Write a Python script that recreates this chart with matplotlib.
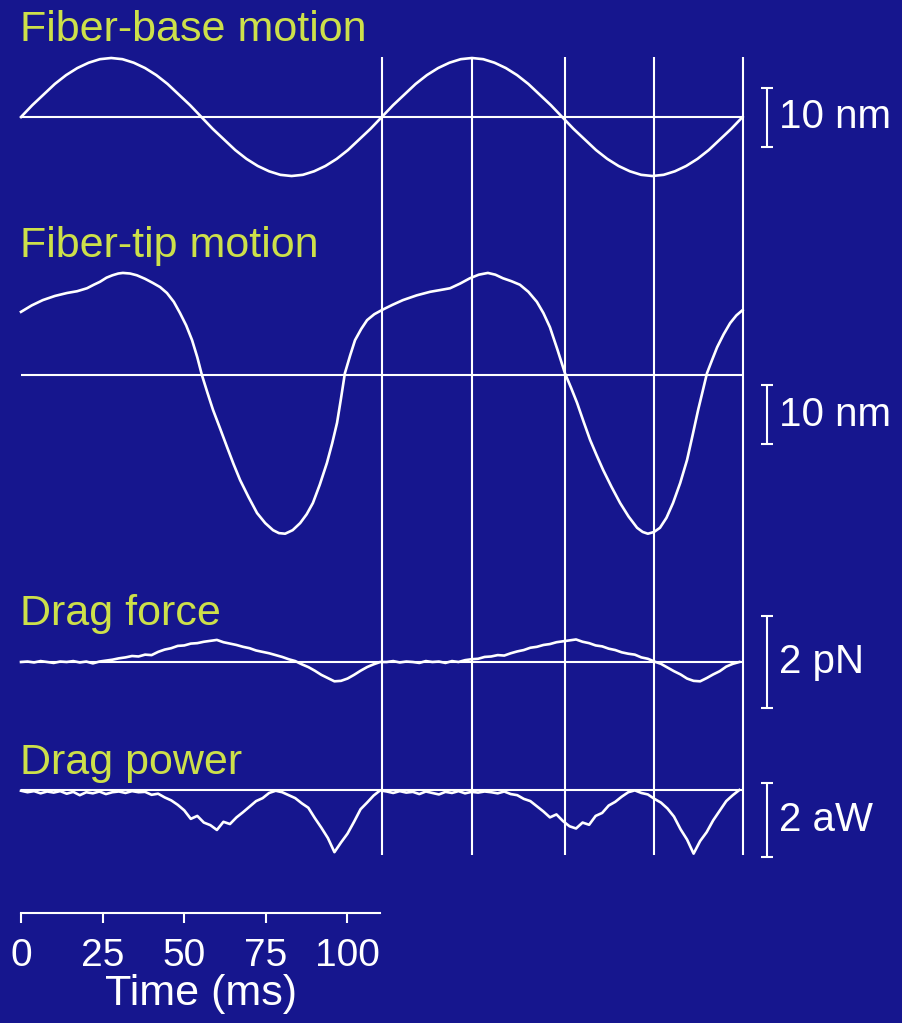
import matplotlib
matplotlib.use("Agg")
import matplotlib.pyplot as plt
import numpy as np

plt.rcParams["font.family"] = ["Liberation Sans", "DejaVu Sans"]

# ---- recorded traces (time in ms) ----
base_t = np.linspace(0, 221, 65)
base_nm = [
    0, 2.0, 3.8, 5.6, 7.1, 8.3, 9.2, 9.8, 10.0, 9.8, 9.2, 8.3, 7.1, 5.6, 3.8, 2.0,
    0, -2.0, -3.8, -5.6, -7.1, -8.3, -9.2, -9.8, -10.0, -9.8, -9.2, -8.3, -7.1, -5.6, -3.8, -2.0,
    0, 2.0, 3.8, 5.6, 7.1, 8.3, 9.2, 9.8, 10.0, 9.8, 9.2, 8.3, 7.1, 5.6, 3.8, 2.0,
    0, -2.0, -3.8, -5.6, -7.1, -8.3, -9.2, -9.8, -10.0, -9.8, -9.2, -8.3, -7.1, -5.6, -3.8, -2.0,
    0,
]

tip_t = [
    0, 3.3, 6.7, 10.4, 14.1, 17.2, 20.2, 22.3, 24.2, 26.2, 28.0, 29.8, 31.2, 33.4,
    35.5, 38.0, 40.4, 42.6, 44.7, 46.8, 48.7, 50.6, 52.4, 54.0, 55.4, 57.1, 58.8,
    61.0, 63.1, 65.1, 67.1, 69.7, 72.3, 74.8, 77.2, 79.0, 80.9, 83.2, 85.5, 87.5,
    89.4, 91.5, 93.7, 95.3, 96.8, 98.0, 99.2, 100.8, 102.3, 104.2, 106.0, 108.2, 110.5,
    113.8, 117.0, 121.2, 125.3, 128.4, 131.4, 134.5, 137.5, 140.2, 143.0, 145.3,
    147.6, 150.2, 152.8, 155.4, 158.0, 160.0, 162.0, 164.3, 166.6, 168.5, 170.3,
    172.3, 174.3, 176.3, 178.3, 180.9, 183.5, 186.1, 188.7, 190.4, 192.0, 193.9,
    195.7, 197.7, 199.7, 201.9, 204.0, 205.7, 207.4, 208.8, 210.1, 211.7, 213.2,
    215.2, 217.2, 219.1, 221.0,
]
tip_nm = [
    10.7, 11.8, 12.7, 13.4, 13.9, 14.2, 14.7, 15.3, 15.8, 16.5, 16.9, 17.2, 17.3, 17.2,
    16.9, 16.3, 15.6, 14.9, 13.9, 12.4, 10.5, 8.4, 5.9, 3.0, 0, -3.0, -5.9,
    -9.1, -12.2, -15.1, -17.8, -20.7, -23.4, -25.1, -26.3, -26.8, -26.9, -26.3, -25.1, -23.6,
    -21.7, -18.6, -14.9, -11.6, -8.1, -4.0, 0.3, 3.3, 5.9, 7.8, 9.3, 10.3, 11.0,
    11.9, 12.7, 13.5, 14.1, 14.4, 14.7, 15.5, 16.4, 17.0, 17.3, 17.0,
    16.4, 15.9, 15.3, 14.1, 12.4, 10.5, 8.1, 4.3, 0.3, -2.2, -4.7,
    -7.9, -11.0, -13.6, -16.1, -19.0, -21.7, -24.0, -25.9, -26.6, -26.9, -26.6,
    -25.9, -24.2, -21.7, -18.3, -14.4, -10.2, -5.9, -2.7, 0.3, 2.6, 4.7,
    6.9, 8.8, 10.1, 11.0,
]

drag_dt_ms = 2.0
drag_force_pN = [
    0.00, 0.01, -0.01, 0.02, 0.00, -0.02, 0.01, 0.00, 0.02, -0.01, 0.01, -0.03, 0.01,
    0.03, 0.05, 0.08, 0.10, 0.13, 0.12, 0.16, 0.15, 0.22, 0.27, 0.30, 0.35, 0.36, 0.40,
    0.41, 0.44, 0.46, 0.48, 0.43, 0.40, 0.37, 0.33, 0.30, 0.25, 0.22, 0.19, 0.15, 0.11,
    0.06, 0.02, -0.05, -0.11, -0.19, -0.28, -0.35, -0.42, -0.41, -0.36, -0.28, -0.19,
    -0.11, -0.05, 0.00,
    0.00, 0.02, -0.01, 0.01, 0.00, -0.02, 0.02, 0.00, 0.01, -0.02, 0.02, 0.00, 0.04,
    0.06, 0.07, 0.11, 0.12, 0.15, 0.14, 0.19, 0.23, 0.26, 0.31, 0.33, 0.37, 0.39, 0.43,
    0.45, 0.47, 0.49, 0.44, 0.41, 0.36, 0.34, 0.29, 0.26, 0.21, 0.18, 0.16, 0.10, 0.07,
    0.01, -0.04, -0.12, -0.20, -0.27, -0.36, -0.41, -0.42, -0.35, -0.27, -0.20, -0.10,
    -0.04, 0.00,
]
drag_power_aW = [
    -0.02, -0.06, -0.03, -0.09, -0.04, -0.07, -0.03, -0.10, -0.05, -0.14,
    -0.06, -0.09, -0.04, -0.11, -0.06, -0.04, -0.08, -0.03, -0.06, -0.05,
    -0.13, -0.10, -0.20, -0.28, -0.40, -0.55, -0.78, -0.70, -0.88, -0.95,
    -1.08, -0.86, -0.92, -0.74, -0.60, -0.45, -0.30, -0.22, -0.08, -0.02,
    -0.06, -0.14, -0.22, -0.36, -0.48, -0.76, -1.02, -1.30, -1.68, -1.42,
    -1.18, -0.86, -0.52, -0.34, -0.15, -0.01,
    -0.04, -0.08, -0.03, -0.07, -0.05, -0.11, -0.04, -0.08, -0.12, -0.05,
    -0.08, -0.03, -0.09, -0.05, -0.07, -0.04, -0.06, -0.09, -0.04, -0.11,
    -0.14, -0.24, -0.30, -0.44, -0.58, -0.74, -0.66, -0.84, -0.98, -1.04,
    -0.88, -0.94, -0.70, -0.62, -0.42, -0.32, -0.18, -0.06, -0.01, -0.08,
    -0.12, -0.24, -0.34, -0.50, -0.72, -1.06, -1.34, -1.72, -1.38, -1.14,
    -0.82, -0.56, -0.30, -0.14, 0.00,
]

# phase markers (ms) and time scale
marker_ms = [110.5, 138, 166.5, 194, 221]
time_ticks = [0, 25, 50, 75, 100]
time_bar_ms = 110

panel_names = ["Fiber-base motion", "Fiber-tip motion", "Drag force", "Drag power"]
scale_labels = ["10 nm", "10 nm", "2 pN", "2 aW"]
scale_ranges = [(-5, 5), (-11.7, -1.7), (-1, 1), (-1.8, 0.2)]

# ---- layout (pixels) ----
W, H = 903, 1023
T0_PX, PX_PER_MS = 21, 3.265
XLIM = (-T0_PX / PX_PER_MS, (W - T0_PX) / PX_PER_MS)
baseline_px = [117, 375, 662, 790]
px_per_unit = [5.9, 5.9, 46, 37]
label_px = [41, 257, 625, 774]

BG = "#16168e"
LABEL_COLOR = "#cde04a"
FG = "white"

fig = plt.figure(figsize=(W / 100, H / 100), dpi=100)
fig.patch.set_facecolor(BG)


def panel_axes(base_px, ppu):
    ax = fig.add_axes([0, 0, 1, 1])
    ax.set_xlim(XLIM)
    ax.set_ylim(-(H - base_px) / ppu, base_px / ppu)
    ax.axis("off")
    return ax


trace_end = marker_ms[-1]
bar_x = (767 - T0_PX) / PX_PER_MS
bar_text_x = (779 - T0_PX) / PX_PER_MS
traces = [
    (base_t, base_nm),
    (tip_t, tip_nm),
    (np.arange(len(drag_force_pN)) * drag_dt_ms, drag_force_pN),
    (np.arange(len(drag_power_aW)) * drag_dt_ms, drag_power_aW),
]

for i, (t, y) in enumerate(traces):
    ax = panel_axes(baseline_px[i], px_per_unit[i])
    ax.hlines(0, 0, trace_end, color=FG, lw=1.5)
    ax.plot(t, y, color=FG, lw=1.9, solid_joinstyle="round")
    ax.text((20 - T0_PX) / PX_PER_MS, (baseline_px[i] - label_px[i]) / px_per_unit[i],
            panel_names[i], color=LABEL_COLOR, fontsize=31, va="baseline", ha="left")
    lo, hi = scale_ranges[i]
    ax.errorbar([bar_x], [(lo + hi) / 2], yerr=[(hi - lo) / 2], fmt="none",
                ecolor=FG, elinewidth=1.5, capsize=4.3, capthick=1.5)
    ax.text(bar_text_x, (lo + hi) / 2, scale_labels[i], color=FG, fontsize=29,
            va="center", ha="left")
    if i == 0:
        ax.vlines(marker_ms, 1 - 855 / H, 1 - 57 / H, color=FG, lw=1.5,
                  transform=ax.get_xaxis_transform())

# time scale bar
axis_y = 1 - 913 / H
ax_t = fig.add_axes([0, axis_y, 1, 0.01])
ax_t.set_xlim(XLIM)
ax_t.patch.set_alpha(0)
for side in ["left", "right", "top"]:
    ax_t.spines[side].set_visible(False)
ax_t.spines["bottom"].set_color(FG)
ax_t.spines["bottom"].set_linewidth(1.5)
ax_t.spines["bottom"].set_bounds(0, time_bar_ms)
ax_t.set_yticks([])
ax_t.set_xticks(time_ticks)
ax_t.tick_params(axis="x", direction="out", length=7, width=1.5, colors=FG,
                 labelsize=28, pad=11)
ax_t.set_xlabel("Time (ms)", color=FG, fontsize=31)
ax_t.xaxis.set_label_coords((55 - XLIM[0]) / (XLIM[1] - XLIM[0]), -6.0)

fig.savefig("out.png", dpi=100, facecolor=fig.get_facecolor())
